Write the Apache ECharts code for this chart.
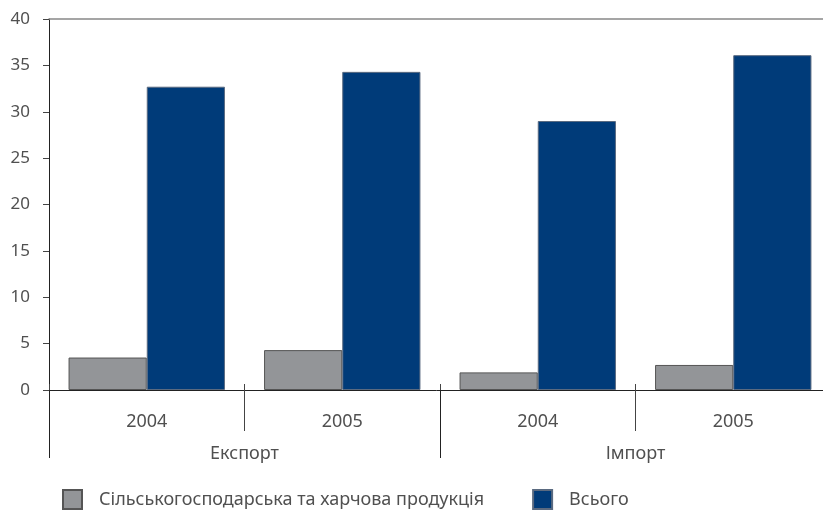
<!DOCTYPE html>
<html lang="uk">
<head>
    <meta charset="UTF-8">
    <title>Експорт та імпорт</title>
    <script src="https://cdn.jsdelivr.net/npm/echarts@6/dist/echarts.min.js"></script>
    <style>
        html, body { margin: 0; padding: 0; background: #fff; }
        #main { width: 823px; height: 511px; }
    </style>
</head>
<body>
    <div id="main"></div>
    <script type="text/javascript">
        // data
        var years = ['2004', '2005', '2004', '2005'];
        var groups = ['Експорт', 'Імпорт'];
        var seriesNames = ['Сільськогосподарська та харчова продукція', 'Всього'];
        var agriValues = [3.5, 4.3, 1.9, 2.7];
        var totalValues = [32.7, 34.3, 29.0, 36.1];

        var font = 'Noto Sans';
        var textColor = '#505050';

        var myChart = echarts.init(document.getElementById('main'));

        var option = {
            backgroundColor: '#ffffff',
            animation: false,
            textStyle: { fontFamily: font },
            // plot runs a little past the right edge, like the original
            grid: { left: 49, top: 19, width: 782, height: 371, outerBoundsMode: 'none', containLabel: false },
            legend: {
                left: 62,
                top: 489,
                padding: 0,
                icon: 'rect',
                itemWidth: 19,
                itemHeight: 19,
                itemGap: 48,
                data: seriesNames,
                textStyle: { fontSize: 18, color: textColor, fontFamily: font, padding: [0, 0, 0, 12] }
            },
            xAxis: [
                {
                    // years + short separators
                    type: 'category',
                    data: years,
                    position: 'bottom',
                    offset: -6,
                    axisLine: { show: false },
                    axisTick: { show: true, length: 47, lineStyle: { color: '#444', width: 1 } },
                    axisLabel: { margin: 29, fontSize: 18, color: textColor }
                },
                {
                    // groups + zero line
                    type: 'category',
                    data: groups,
                    position: 'bottom',
                    offset: 0,
                    axisLine: { show: true, lineStyle: { color: '#222', width: 1 } },
                    axisTick: { show: true, length: 68, lineStyle: { color: '#222', width: 1 } },
                    axisLabel: { margin: 55, fontSize: 18, color: textColor }
                },
                {
                    // top line at 40
                    type: 'category',
                    data: years,
                    position: 'top',
                    axisLine: { show: true, lineStyle: { color: '#888', width: 1.5 } },
                    axisTick: { show: false },
                    axisLabel: { show: false }
                }
            ],
            yAxis: {
                type: 'value',
                min: 0,
                max: 40,
                interval: 5,
                axisLine: { show: true, lineStyle: { color: '#222', width: 1 } },
                axisTick: { show: true, length: 6, lineStyle: { color: '#444' } },
                axisLabel: { margin: 19, fontSize: 17, color: textColor },
                splitLine: { show: false }
            },
            series: [
                {
                    name: seriesNames[0],
                    type: 'bar',
                    xAxisIndex: 0,
                    data: agriValues,
                    barGap: 0,
                    barCategoryGap: '20%',
                    itemStyle: { color: '#939598', borderColor: '#555', borderWidth: 1 }
                },
                {
                    name: seriesNames[1],
                    type: 'bar',
                    xAxisIndex: 0,
                    data: totalValues,
                    barGap: 0,
                    barCategoryGap: '20%',
                    itemStyle: { color: '#003b79', borderColor: '#5a6a80', borderWidth: 1 }
                }
            ]
        };

        myChart.setOption(option);
    </script>
</body>
</html>
